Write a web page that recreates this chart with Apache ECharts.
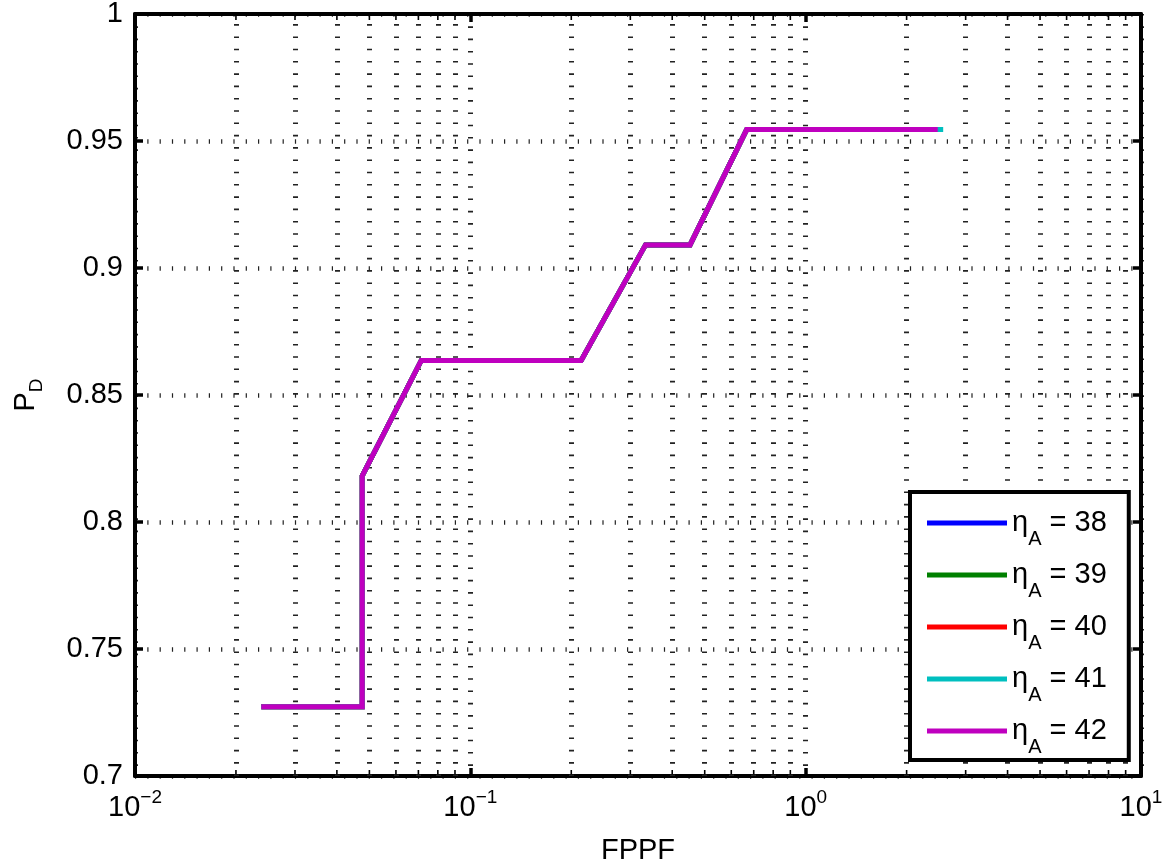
<!DOCTYPE html>
<html>
<head>
<meta charset="utf-8">
<script src="https://cdn.jsdelivr.net/npm/echarts@6/dist/echarts.min.js"></script>
<style>
  html, body { margin: 0; padding: 0; background: #fff; }
  #chart { width: 1170px; height: 861px; }
</style>
</head>
<body>
<div id="chart"></div>
<script>
// Detection curves: probability of detection vs. false positives per frame
const etaValues = [38, 39, 40, 41, 42];
const lineColors = ['#0000ff', '#008000', '#ff0000', '#00bfbf', '#bf00bf'];

const pd = [0.7273, 0.7273, 0.8182, 0.8636, 0.8636, 0.9091, 0.9091, 0.9545, 0.9545];
const fppf38 = [0.0238, 0.0476, 0.0476, 0.0714, 0.214, 0.333, 0.452, 0.667, 2.476];
const fppf39 = [0.0238, 0.0476, 0.0476, 0.0714, 0.214, 0.333, 0.452, 0.667, 2.476];
const fppf40 = [0.0238, 0.0476, 0.0476, 0.0714, 0.214, 0.333, 0.452, 0.667, 2.476];
const fppf41 = [0.0238, 0.0476, 0.0476, 0.0714, 0.214, 0.333, 0.452, 0.667, 2.571];
const fppf42 = [0.0238, 0.0476, 0.0476, 0.0714, 0.214, 0.333, 0.452, 0.667, 2.476];
const fppfBySeries = [fppf38, fppf39, fppf40, fppf41, fppf42];

// minor decade positions for the log x axis
const minorDecadeValues = [
  0.02, 0.03, 0.04, 0.05, 0.06, 0.07, 0.08, 0.09,
  0.2, 0.3, 0.4, 0.5, 0.6, 0.7, 0.8, 0.9,
  2, 3, 4, 5, 6, 7, 8, 9
];

const FONT = "'Liberation Sans', Arial, Helvetica, sans-serif";
const X_MIN = 0.01, X_MAX = 10, Y_MIN = 0.7, Y_MAX = 1, Y_STEP = 0.05;

const vGridStyle = { color: '#222', width: 5, type: [1.6, 10.7] };
const hGridStyle = { color: '#222', width: 4.5, type: [1.2, 11.1] };
const majorTick = { show: true, inside: true, length: 8, lineStyle: { color: '#000', width: 3.5 } };
const frameLine = { show: true, lineStyle: { color: '#000', width: 4 } };

function expLabel(v) {
  const e = Math.round(Math.log10(v));
  return '{b|10}{s|' + (e < 0 ? '\u2212' + (-e) : e) + '}';
}

const curveSeries = etaValues.map((eta, i) => ({
  name: String(eta),
  type: 'line',
  data: fppfBySeries[i].map((x, k) => [x, pd[k]]),
  symbol: 'none',
  showSymbol: false,
  lineStyle: { width: 5, color: lineColors[i], cap: 'butt', join: 'miter' },
  itemStyle: { color: lineColors[i] },
  z: 10 + i
}));

// minor ticks on top/bottom frame plus the minor vertical grid
const minorSeries = {
  type: 'custom',
  silent: true,
  xAxisIndex: 0,
  yAxisIndex: 0,
  data: minorDecadeValues.map(v => [v, Y_MIN]),
  z: 2,
  renderItem: function (params, api) {
    const bottom = api.coord([api.value(0), Y_MIN]);
    const top = api.coord([api.value(0), Y_MAX]);
    const st = { stroke: '#000', lineWidth: 1.6 };
    return {
      type: 'group',
      children: [
        { type: 'line', shape: { x1: bottom[0], y1: bottom[1], x2: bottom[0], y2: bottom[1] - 6 }, style: st },
        { type: 'line', shape: { x1: top[0], y1: top[1], x2: top[0], y2: top[1] + 6 }, style: st }
      ]
    };
  },
  markLine: {
    silent: true,
    symbol: ['none', 'none'],
    label: { show: false },
    emphasis: { disabled: true },
    lineStyle: vGridStyle,
    data: minorDecadeValues.map(v => ({ xAxis: v }))
  }
};

const chart = echarts.init(document.getElementById('chart'), null, { renderer: 'canvas' });

chart.setOption({
  animation: false,
  backgroundColor: '#fff',
  textStyle: { fontFamily: FONT, color: '#000' },
  grid: { left: 135, right: 29, top: 14, bottom: 85, containLabel: false, outerBoundsMode: 'none' },
  xAxis: [
    {
      type: 'log', logBase: 10, min: X_MIN, max: X_MAX, position: 'bottom',
      name: 'FPPF', nameLocation: 'middle', nameGap: 60,
      nameTextStyle: { fontFamily: FONT, fontSize: 29, color: '#000', lineHeight: 29 },
      axisLine: frameLine,
      axisTick: majorTick,
      axisLabel: {
        margin: 12,
        formatter: expLabel,
        rich: {
          b: { fontFamily: FONT, fontSize: 29, color: '#000', lineHeight: 40 },
          s: { fontFamily: FONT, fontSize: 19, color: '#000', lineHeight: 6, verticalAlign: 'top' }
        }
      },
      splitLine: { show: true, lineStyle: vGridStyle }
    },
    {
      type: 'log', logBase: 10, min: X_MIN, max: X_MAX, position: 'top',
      axisLine: frameLine,
      axisTick: majorTick,
      axisLabel: { show: false },
      splitLine: { show: false }
    }
  ],
  yAxis: [
    {
      type: 'value', min: Y_MIN, max: Y_MAX, interval: Y_STEP, position: 'left',
      name: '{p|P}{d|D}', nameLocation: 'middle', nameRotate: 90, nameGap: 89,
      nameTextStyle: {
        rich: {
          p: { fontFamily: FONT, fontSize: 29, color: '#000', lineHeight: 40 },
          d: { fontFamily: FONT, fontSize: 19, color: '#000', lineHeight: 2, verticalAlign: 'bottom' }
        }
      },
      axisLine: frameLine,
      axisTick: majorTick,
      axisLabel: { margin: 12, fontFamily: FONT, fontSize: 29, color: '#000' },
      splitLine: { show: true, lineStyle: hGridStyle }
    },
    {
      type: 'value', min: Y_MIN, max: Y_MAX, interval: Y_STEP, position: 'right',
      axisLine: frameLine,
      axisTick: majorTick,
      axisLabel: { show: false },
      splitLine: { show: false }
    }
  ],
  legend: {
    orient: 'vertical',
    left: 910,
    top: 492,
    data: etaValues.map(String),
    icon: 'rect',
    itemWidth: 80,
    itemHeight: 5,
    itemGap: 0,
    padding: [5, 22, 3, 17],
    backgroundColor: '#fff',
    borderColor: '#000',
    borderWidth: 4,
    borderRadius: 0,
    selectedMode: false,
    formatter: name => '{e|\u03b7}{a|A}{e| = ' + name + '}',
    textStyle: {
      fontFamily: FONT,
      fontSize: 29,
      lineHeight: 52,
      color: '#000',
      rich: {
        e: { fontFamily: FONT, fontSize: 29, color: '#000', lineHeight: 52 },
        a: { fontFamily: FONT, fontSize: 20, color: '#000', lineHeight: 20, padding: [32, 0, 0, 0] }
      }
    },
    z: 20
  },
  series: [minorSeries].concat(curveSeries)
});
</script>
</body>
</html>
